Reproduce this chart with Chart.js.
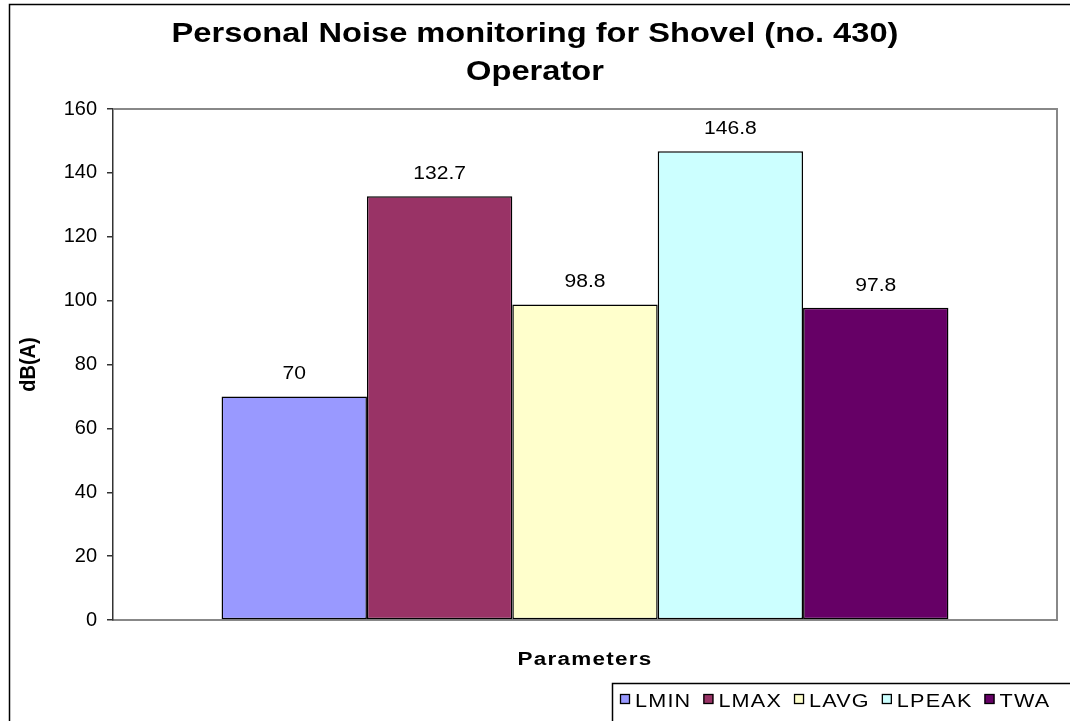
<!DOCTYPE html>
<html>
<head>
<meta charset="utf-8">
<script src="https://cdn.jsdelivr.net/npm/chart.js@4.4.1/dist/chart.umd.min.js"></script>
<style>
  html, body { margin: 0; padding: 0; background: #fff; }
  #wrap { width: 1070px; height: 721px; }
</style>
</head>
<body>
<div id="wrap"><canvas id="noiseChart" width="1070" height="721"></canvas></div>
<script>
// data
const seriesNames = ['LMIN', 'LMAX', 'LAVG', 'LPEAK', 'TWA'];
const seriesValues = [70, 132.7, 98.8, 146.8, 97.8];
const seriesColors = ['#9999FF', '#993366', '#FFFFCC', '#CCFFFF', '#660066'];
const categories = [''];
const yTicks = [0, 20, 40, 60, 80, 100, 120, 140, 160];
const titleLines = ['Personal Noise monitoring for Shovel (no. 430)', 'Operator'];
const xTitle = 'Parameters';
const yTitle = 'dB(A)';

const FONT = '"Liberation Sans", Arial, sans-serif';
const STRETCH = 1.17; // the reference text is a bit wide

const datasets = seriesNames.map((name, i) => ({
  label: name,
  data: [seriesValues[i]],
  backgroundColor: seriesColors[i],
  borderColor: '#000',
  borderWidth: 1.5,
  borderSkipped: false,
  categoryPercentage: 0.77,
  barPercentage: 1
}));

// draw text squashed/stretched horizontally around its anchor
function wideText(ctx, text, x, y, sx) {
  ctx.save();
  ctx.translate(x, y);
  ctx.scale(sx, 1);
  ctx.fillText(text, 0, 0);
  ctx.restore();
}

const decorations = {
  id: 'decorations',
  beforeDraw(chart) {
    const ctx = chart.ctx;
    ctx.save();
    ctx.fillStyle = '#fff';
    ctx.fillRect(0, 0, chart.width, chart.height);
    ctx.strokeStyle = '#000';
    ctx.lineWidth = 1.5;
    ctx.strokeRect(9.5, 4.5, chart.width + 20, chart.height + 20);
    ctx.restore();
  },
  afterDatasetsDraw(chart) {
    const ctx = chart.ctx;
    ctx.save();
    ctx.font = '18px ' + FONT;
    ctx.fillStyle = '#000';
    ctx.textAlign = 'center';
    ctx.textBaseline = 'alphabetic';
    chart.data.datasets.forEach((ds, i) => {
      const bar = chart.getDatasetMeta(i).data[0];
      wideText(ctx, String(ds.data[0]), bar.x, bar.y - 17, STRETCH);
    });
    ctx.restore();
  },
  afterDraw(chart) {
    const ctx = chart.ctx;
    const a = chart.chartArea;
    ctx.save();
    // gray top / right frame of plot area
    ctx.strokeStyle = '#888';
    ctx.lineWidth = 2;
    ctx.beginPath();
    ctx.moveTo(a.left, a.top);
    ctx.lineTo(a.right, a.top);
    ctx.lineTo(a.right, a.bottom);
    ctx.stroke();

    // title
    ctx.fillStyle = '#000';
    ctx.textAlign = 'center';
    ctx.textBaseline = 'alphabetic';
    ctx.font = 'bold 28px ' + FONT;
    wideText(ctx, titleLines[0], 535, 42, 1.165);
    wideText(ctx, titleLines[1], 535, 80, 1.165);

    // axis titles
    ctx.font = 'bold 18px ' + FONT;
    ctx.letterSpacing = '1px';
    const w = ctx.measureText(xTitle).width;
    wideText(ctx, xTitle, (a.left + a.right) / 2, 665, 135 / w);
    ctx.letterSpacing = '0px';
    ctx.font = 'bold 20px ' + FONT;
    ctx.textBaseline = 'middle';
    ctx.save();
    ctx.translate(29, (a.top + a.bottom) / 2);
    ctx.rotate(-Math.PI / 2);
    ctx.scale(1, 1.1);
    ctx.fillText(yTitle, 0, 0);
    ctx.restore();

    // legend box
    ctx.strokeStyle = '#000';
    ctx.lineWidth = 1.5;
    ctx.strokeRect(612.5, 683.5, chart.width, 60);
    ctx.font = '18px ' + FONT;
    ctx.textAlign = 'left';
    ctx.textBaseline = 'alphabetic';
    ctx.letterSpacing = '1px';
    let x = 620;
    chart.data.datasets.forEach(ds => {
      ctx.fillStyle = ds.backgroundColor;
      ctx.fillRect(x, 694, 10, 10);
      ctx.strokeStyle = '#000';
      ctx.lineWidth = 1.3;
      ctx.strokeRect(x + 0.5, 694.5, 9, 9);
      ctx.fillStyle = '#000';
      wideText(ctx, ds.label, x + 15, 707, 1.2);
      x += 15 + ctx.measureText(ds.label).width * 1.2 + 12;
    });
    ctx.restore();
  }
};

new Chart(document.getElementById('noiseChart'), {
  type: 'bar',
  data: { labels: categories, datasets: datasets },
  options: {
    responsive: false,
    animation: false,
    layout: { padding: { left: 0, top: 109, right: 13, bottom: 0 } },
    plugins: {
      legend: { display: false },
      title: { display: false },
      tooltip: { enabled: false }
    },
    scales: {
      x: {
        ticks: { display: false },
        grid: { display: true, drawOnChartArea: false, drawTicks: false },
        border: { display: true, color: '#888', width: 2 },
        afterFit(scale) { scale.height = 101; }
      },
      y: {
        min: yTicks[0],
        max: yTicks[yTicks.length - 1],
        afterBuildTicks(scale) { scale.ticks = yTicks.map(v => ({ value: v })); },
        ticks: {
          color: '#000',
          font: { family: FONT, size: 20 },
          padding: 10
        },
        grid: { display: true, drawOnChartArea: false, drawTicks: true, tickLength: 6, color: '#333', lineWidth: 1.5 },
        border: { display: true, color: '#333', width: 1.5 },
        afterFit(scale) { scale.width = 113; }
      }
    }
  },
  plugins: [decorations]
});
</script>
</body>
</html>
